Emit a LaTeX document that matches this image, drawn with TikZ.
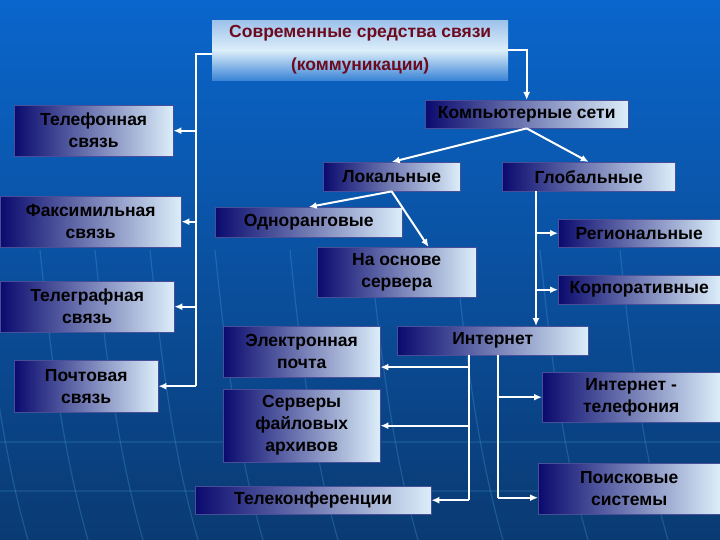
\documentclass[tikz,border=0pt]{standalone}
\usepackage{fontspec}
\setmainfont{Liberation Sans}
\usetikzlibrary{
arrows.meta,%
calc%
}
\definecolor{bgtop}{HTML}{0A66CC}
\definecolor{bgbot}{HTML}{0A3A72}
\definecolor{boxdark}{HTML}{0A0A6E}
\definecolor{boxlight}{HTML}{DCEEFA}
\definecolor{titlered}{HTML}{6E0A1E}
\tikzset{
    box/.style={anchor=north west, inner sep=1pt, align=center,
        left color=boxdark, right color=boxlight, draw=boxdark!70!boxlight, line width=0.4pt,
        font=\bfseries\fontsize{17.5}{22}\selectfont},
    title/.style={anchor=north west, inner sep=1pt, align=center,
        top color=bgtop!40!white, bottom color=bgtop!80!white, middle color=boxlight,
        text=titlered, font=\bfseries\fontsize{17.5}{33}\selectfont},
    link/.style={draw=white, line width=2pt},
    arr/.style={link, -{Latex[length=8pt,width=7pt]}},
    streak/.style={draw=cyan!60!white, opacity=0.2, line width=1.2pt}
}
\begin{document}
\begin{tikzpicture}[x=1pt, y=-1pt]
            % background
            \shade[top color=bgtop, bottom color=bgbot] (0,0) rectangle (720,540);
            \useasboundingbox (0,0) rectangle (720,540);
            \foreach \sx in {-20,40,95,150,215,290,370,455,540,620}
                \draw[streak] (\sx,250) .. controls (\sx+12,370) and (\sx+25,460) .. (\sx+48,540);
            \draw[streak, opacity=0.12] (0,442) -- (720,442);
            \draw[streak, opacity=0.12] (0,491) -- (720,491);
            % ----
            \node[title, minimum width=296, minimum height=60] (top) at (212,20)
                {Современные средства связи\\(коммуникации)};
            % left column
            \node[box, minimum width=159, minimum height=51] (phone) at (14,105) {Телефонная\\связь};
            \node[box, minimum width=181, minimum height=51] (fax) at (0,196) {Факсимильная\\связь};
            \node[box, minimum width=174, minimum height=51] (telegraph) at (0,281) {Телеграфная\\связь};
            \node[box, minimum width=144, minimum height=52] (post) at (14,360) {Почтовая\\связь};
            % networks
            \node[box, minimum width=203, minimum height=28] (comp) at (425,100) {Компьютерные сети};
            \node[box, minimum width=137, minimum height=29] (local) at (323,162) {Локальные};
            \node[box, minimum width=173, minimum height=29] (global) at (502,162) {Глобальные};
            \node[box, minimum width=187, minimum height=30] (peer) at (215,207) {Одноранговые};
            \node[box, minimum width=159, minimum height=50] (server) at (317,247) {На основе\\сервера};
            \node[box, minimum width=162, minimum height=28] (region) at (558,219) {Региональные};
            \node[box, minimum width=162, minimum height=29] (corp) at (558,275) {Корпоративные};
            % internet
            \node[box, minimum width=191, minimum height=29] (inet) at (397,326) {Интернет};
            \node[box, minimum width=157, minimum height=51] (mail) at (223,326) {Электронная\\почта};
            \node[box, minimum width=157, minimum height=73] (files) at (223,389) {Серверы\\файловых\\архивов};
            \node[box, minimum width=236, minimum height=28] (conf) at (195,486) {Телеконференции};
            \node[box, minimum width=178, minimum height=50] (voip) at (542,372) {Интернет -\\телефония};
            \node[box, minimum width=182, minimum height=51] (search) at (538,463) {Поисковые\\системы};
            % buses
            \coordinate (lbus) at (196,54);
            \coordinate (gbus) at (536,0);
            \coordinate (ibl) at (469,0);
            \coordinate (ibr) at (498,0);
            % ----
            \draw[link] (top.west |- lbus) -- (lbus) -- (lbus |- post.east);
            \draw[arr] (lbus |- phone.east) -- (phone.east);
            \draw[arr] (lbus |- fax.east) -- (fax.east);
            \draw[arr] (lbus |- telegraph.east) -- (telegraph.east);
            \draw[arr] (lbus |- post.east) -- (post.east);
            \draw[arr] (top.east) -| (comp.north);
            \draw[arr] (comp.south) -- (local.north);
            \draw[arr] (comp.south) -- (global.north);
            \draw[arr] (local.south) -- (peer.north);
            \draw[arr] (local.south) -- ($(server.north west)!0.7!(server.north east)$);
            \draw[arr] (gbus |- global.south) -- (gbus |- inet.north);
            \draw[arr] (gbus |- region.west) -- (region.west);
            \draw[arr] (gbus |- corp.west) -- (corp.west);
            % ----
            \draw[link] (ibl |- inet.south) -- (ibl |- conf.east);
            \draw[arr] (ibl |- conf.east) -- (conf.east);
            \draw[arr] (ibl |- {$(mail.east)!0.6!(mail.south east)$}) -- ($(mail.east)!0.6!(mail.south east)$);
            \draw[arr] (ibl |- files.east) -- (files.east);
            \draw[link] (ibr |- inet.south) -- (ibr |- {$(search.west)!0.35!(search.south west)$});
            \draw[arr] (ibr |- voip.west) -- (voip.west);
            \draw[arr] (ibr |- {$(search.west)!0.35!(search.south west)$}) -- ($(search.west)!0.35!(search.south west)$);
\end{tikzpicture}
\end{document}
